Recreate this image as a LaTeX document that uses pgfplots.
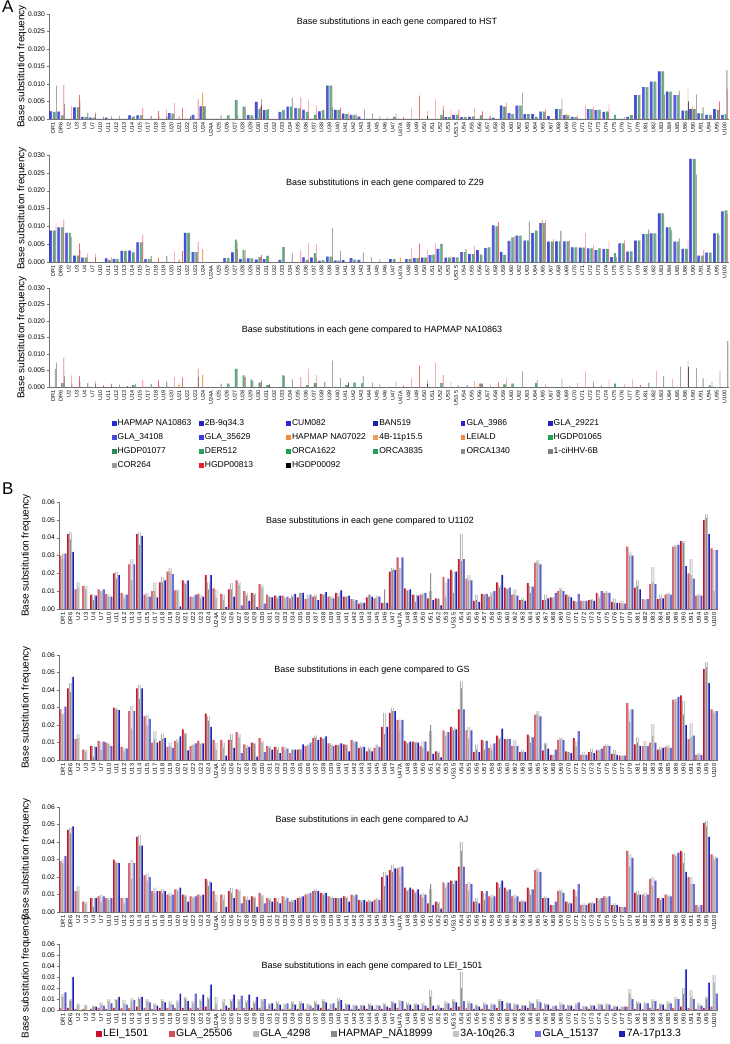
\documentclass[border=0pt]{standalone}
\usepackage{fontspec}
\setmainfont{Liberation Sans}
\usepackage{pgfplots}
\usepackage{pgfplotstable}
\pgfplotsset{compat=1.18}

% gene names along the x axis (86 categories)
\newcommand{\genes}{DR1,DR6,U2,U3,U4,U7,U10,U11,U12,U13,U14,U15,U17,U18,U19,U20,U21,U22,U23,U24,U24A,U25,U26,U27,U28,U29,U30,U31,U32,U33,U34,U35,U36,U37,U38,U39,U40,U41,U42,U43,U44,U45,U46,U47,U47A,U48,U49,U50,U51,U52,U53,U53.5,U54,U55,U56,U57,U58,U59,U60,U62,U63,U64,U65,U67,U68,U69,U70,U71,U72,U73,U74,U75,U76,U77,U79,U81,U82,U83,U84,U85,U86,U90,U91,U94,U95,U100}

% panel A colours
\definecolor{a0}{HTML}{2B2BD6}\definecolor{a1}{HTML}{2222C4}\definecolor{a2}{HTML}{2A2ADC}
\definecolor{a3}{HTML}{1E1EB4}\definecolor{a4}{HTML}{2626CC}\definecolor{a5}{HTML}{2020BE}
\definecolor{a6}{HTML}{4A4ADE}\definecolor{a7}{HTML}{3D3DD4}
\definecolor{a8}{HTML}{F28A3C}\definecolor{a9}{HTML}{F09A55}\definecolor{a10}{HTML}{EE8A44}
\definecolor{a11}{HTML}{1FA550}\definecolor{a12}{HTML}{2E8B57}\definecolor{a13}{HTML}{27A35E}
\definecolor{a14}{HTML}{1E9E52}\definecolor{a15}{HTML}{23A058}
\definecolor{a16}{HTML}{8C8C8C}\definecolor{a17}{HTML}{7E7E7E}\definecolor{a18}{HTML}{9A9A9A}
\definecolor{a19}{HTML}{EE1C24}\definecolor{a20}{HTML}{000000}
% panel B colours
\definecolor{cL}{HTML}{C8102E}\definecolor{cG}{HTML}{D35050}
\definecolor{cH}{HTML}{B4B4B4}\definecolor{cN}{HTML}{8A8A8A}\definecolor{cA}{HTML}{C4C4C4}
\definecolor{cQ}{HTML}{6E6EDC}\definecolor{cS}{HTML}{1E1EB0}

% values in units of 0.001 (panel A) and 0.01 (panel B)
% columns A: b=blue strains, o=orange, g=green, y=grey, r=HGDP00813, k=HGDP00092
\pgfplotstableread{
i b o g y r k
0 2.2 0 2.0 2.0 0 9.5
1 2.1 0 1.0 1.0 9.7 4.3
2 0 0 0 0 3.7 0
3 3.3 0 3.3 3.3 6.8 5.2
4 0.6 0 0.6 0.6 0 1.7
5 0.4 0 0.4 0.4 2.0 1.4
6 0 0 0 0 0.7 0
7 0.4 0 0 0 0 0.8
8 0 0 0 0 0 0.9
9 0 0 0 0 0 0
10 1.0 0 0.6 0.9 0 0
11 1.0 0 1.0 1.0 3.2 0
12 0 0 0 0 0 0.9
13 0 0 0 0 2.3 0.9
14 0 0 0 0 2.7 0.7
15 1.7 0 1.5 1.5 4.6 0
16 0 0.7 0 0 3.1 0
17 0 0 0 0 0 0.7
18 1.2 0 0 0 5.6 0
19 3.6 7.5 3.6 3.6 0 0
20 0 0 0 0 0 0
21 0 0 0 1.0 0 0
22 0 0 1.0 1.0 0 0
23 0 0 5.4 5.4 0 1.0
24 0 0 3.5 3.5 3.2 0
25 1.1 0 1.0 1.0 0 0
26 4.9 0 2.8 3.4 4.0 5.7
27 2.5 0 2.7 2.8 0 0
28 0 0 0 0 0 0
29 2.0 0 2.5 2.5 0 0
30 3.5 0 3.5 6.0 0 0
31 3.1 0 3.0 3.0 6.2 0
32 2.6 0 2.0 2.0 5.5 0
33 0 0 1.2 1.2 3.8 0
34 2.2 0 2.5 2.5 0 0
35 9.5 0 9.5 9.5 0 3.3
36 2.6 0 2.6 2.6 3.2 0
37 1.5 0 1.4 1.4 1.7 0
38 1.2 0 1.2 1.2 1.5 0
39 0.7 0 0 0 0 2.7
40 0 0 0 0 0 1.6
41 0 0 0 0 0.9 0
42 0 0 0 0 0.6 0
43 0 0 0.6 0.6 0 1.5
44 0 0 0 0 0.5 0
45 0 0 0 0 3.0 0
46 0 0 0 0 6.7 0
47 0 0 0 0 2.4 0.8
48 0 0 0 0 5.6 0
49 0 0 1.2 1.2 3.8 2.5
50 0.5 0 0.5 0.5 2.6 0
51 1.2 0 1.2 1.2 2.7 0
52 0.5 0 0.6 0.6 0 0
53 0.6 0 0.7 0.7 3.2 0
54 0 0 1.0 1.0 2.2 0
55 0 0 0 0.6 1.2 0
56 0.3 0 0 0 0 0
57 3.8 0 3.5 3.5 4.6 0
58 1.7 0 1.4 1.4 0 0
59 3.8 0 3.8 3.8 0 7.5
60 1.4 0 1.4 1.4 0 0
61 1.4 0 0.6 0.6 0 0
62 2.1 0 2.1 2.1 2.9 0
63 0.8 0 0 0 0 0
64 2.8 0 2.8 2.8 0 5.8
65 1.1 1.5 1.0 1.0 0 0
66 0.6 0 0.5 0.5 1.1 0
67 0 0 0 0 4.1 0
68 2.8 0 2.8 2.8 3.7 0
69 2.5 0 2.6 2.6 0 0
70 2.0 0 2.1 2.1 4.4 0
71 0 0 1.2 0 0 0
72 0 0 0 0 0.5 0
73 0.6 0 1.1 1.1 1.0 0
74 6.8 0 6.8 6.8 0 0
75 9.1 0 9.1 9.1 0 0
76 10.7 0 10.7 10.7 0 0
77 13.6 0 13.6 13.6 0 7.0
78 7.8 0 7.8 7.8 0 0
79 6.8 0 6.8 8.0 0 0
80 2.4 0 2.4 2.4 8.6 5.0
81 2.8 3.5 2.8 2.8 0 7.0
82 1.6 0 1.6 3.3 0 0
83 1.2 0 1.2 1.2 1.1 0
84 2.8 0 2.6 2.6 5.0 0
85 1.2 0 1.4 13.9 8.6 0
}\tAa

\pgfplotstableread{
i b o g y r k
0 8.8 0 8.8 8.8 10.8 0
1 9.7 0 9.7 9.7 11.9 0
2 8.2 0 8.2 7.0 0 0
3 1.8 0 1.8 1.8 5.2 3.5
4 1.2 0 1.2 1.2 2.4 0
5 0 0 0 0 2.3 1.3
6 0 0 0 0 0 0
7 1.0 0 0.6 0.6 1.4 0
8 0.9 0 0.9 0.9 0 0
9 3.1 0 3.1 3.1 0 0
10 3.2 0 2.7 2.7 0 0
11 5.5 0 5.5 5.5 7.7 0
12 0.8 0 0.8 0.8 0 1.7
13 0 0 0 0 1.2 0
14 0 0 0 0 0 1.7
15 0 0 0 0 3.0 0
16 0 0.7 0 0 3.1 0
17 8.2 0 8.2 8.2 0 0
18 2.8 0 2.8 2.8 5.6 0
19 0 3.6 0 0 0 0
20 0 0 0 0 0 0
21 0 0 0 0 0 0
22 1.1 0 1.1 1.1 0 0
23 2.7 0 6.3 3.6 5.5 0
24 0.8 0 3.4 1.0 3.3 0
25 1.0 0 1.0 1.0 0 0
26 0.7 0 1.4 1.4 2.0 0
27 0.8 0 1.7 1.7 0 0
28 0 0 0 0 0 0
29 0.6 0 4.2 4.2 0 0
30 0 0 0 2.4 0 0
31 0 0 0 0 3.1 0
32 1.3 0 0.6 0.6 5.3 0
33 1.2 0 2.5 1.2 5.0 0
34 0.3 0 0.5 0.5 0 0
35 1.5 0 1.5 1.5 0 9.6
36 0.4 0 0.4 0.4 0 3.1
37 0.5 0 0 0 0 0
38 1.1 0 0.7 0.7 0 0
39 0.6 0 0 2.6 0 0
40 0 0 0 1.4 0 0
41 0 0 0 0 0.8 0
42 0 0 0 0 0 0
43 0.8 0 0.8 0.8 0 0
44 0 1.2 0 0 0 0
45 0.8 0 0.8 0.8 3.8 0
46 1.1 0 1.1 1.1 5.2 0
47 1.2 0 1.2 1.2 3.5 0
48 1.9 0 2.1 2.1 5.3 0
49 3.7 0 5.1 5.1 0 0
50 1.2 0 1.2 1.2 1.8 0
51 1.3 0 1.3 1.3 0 0
52 2.8 0 2.8 3.6 0 0
53 2.2 0 2.2 2.2 4.6 0
54 3.3 0 2.1 2.1 0 0
55 3.9 0 4.1 4.1 0 0
56 10.3 0 10.0 10.0 11.2 0
57 2.8 0 2.0 2.0 0 0
58 5.9 0 6.9 6.9 7.1 0
59 7.4 0 7.4 7.4 0 0
60 6.0 0 6.0 11.3 0 0
61 8.1 0 8.8 8.8 0 0
62 10.9 11.8 10.9 10.9 11.8 0
63 5.7 0 5.7 5.7 6.5 0
64 5.8 0 5.8 8.7 0 0
65 5.8 0 5.8 5.8 6.3 0
66 4.1 0 4.1 4.1 0 0
67 4.0 0 4.0 4.0 8.1 0
68 3.8 0 3.8 3.8 4.8 0
69 3.3 0 3.8 3.8 0 0
70 3.6 0 3.6 3.6 5.9 0
71 1.4 0 2.5 1.4 0 0
72 5.2 0 5.2 5.2 6.2 0
73 2.9 0 3.0 3.0 0 0
74 6.0 0 6.0 6.0 0 0
75 7.8 0 7.8 7.8 0 9.1
76 8.0 0 8.0 8.0 0 0
77 13.6 0 13.6 13.6 0 0
78 9.7 0 9.7 8.8 0 0
79 5.7 0 5.7 6.7 0 0
80 3.7 0 3.7 3.7 6.0 0
81 28.9 0 28.9 28.9 0 24.5
82 1.8 0 1.8 1.8 3.4 0
83 2.6 0 2.6 2.6 0 0
84 8.0 0 8.0 7.6 0 0
85 14.2 0 14.5 14.5 13.5 0
}\tAb

\pgfplotstableread{
i b o g y r k
0 0 0 0 5.5 0 7.4
1 0 0 1.2 1.2 8.8 3.2
2 0 0 0 0 3.5 1.0
3 0 0 0 0 3.4 1.6
4 0 0 0 0 0 1.2
5 0 0 0 0 1.8 1.0
6 0 0 0 0 0.6 0
7 0 0 0 0 0.5 1.0
8 0 0 0 0 0 0.8
9 0 0 0 0 0 0.3
10 0 0 0.6 0.6 0 1.0
11 0 0 0 0 2.0 0
12 0 0 0 0 0 0.9
13 0 0 0 0 2.0 0.5
14 0 0 0 0 0 1.6
15 0 0 0 0 2.9 0
16 0 0.8 0 0 2.9 0
17 0 0 0 0 0 0
18 0 0 0 0 5.6 3.0
19 0 3.7 0 0 0 0
20 0 0 0 0 0 0
21 0 0 0 1.0 0 0
22 0 0 1.0 1.0 0 0
23 0 0 5.5 5.5 0 0
24 0 0 3.5 3.0 3.0 0
25 0 0 2.2 1.8 0 0
26 0 0 1.3 1.3 1.9 0
27 0 0 0.6 0.6 0 0.8
28 0 0 0 0 0 0
29 0 0 3.5 3.4 0 0
30 0 0 0 2.3 0 0
31 0 0 0 0 3.0 0
32 0 0 0.6 0.6 5.6 0
33 0 0 1.2 1.2 3.7 0
34 0 0 0 0 0 1.5
35 0 0 0 0 0 8.0
36 0 0 0 0 0 2.7
37 0 0 0.6 0.6 0 1.3
38 0 0 1.3 1.3 0 0
39 0 0 1.2 3.3 0 0
40 0 0 0 0 0 1.3
41 0 0 0 0 0.8 0
42 0 0 0 0 0 0
43 0 0 0 0 0 1.5
44 0 0 0 0 0.5 0
45 0 0 0 0 2.6 0
46 0 0 0 0 6.5 0
47 0 0 0 0 2.2 1.0
48 0 0 0 0 7.4 0
49 0 0 1.2 1.2 3.6 0
50 0 0 0 0 1.5 0
51 0 0 0 0.5 0 0
52 0 0 0 0 0 0.6
53 0 0 0 0 1.8 0
54 0 1.0 1.0 1.0 1.0 0
55 0 0 0 0 0.8 0
56 0 0 0 0 1.4 0
57 0 0 0.8 0.8 2.6 0
58 0 0 1.0 1.0 0 0
59 0 0 0 0 0 4.7
60 0 0 0 0 0 0
61 0 0 1.2 2.0 0 0
62 0 0 0 0 1.0 0
63 0 0 0 0 0 0
64 0 0 0 0 0 2.4
65 0 0 0 0 0.5 0
66 0 0 0 0 1.3 0
67 0 0 0 0 4.7 0
68 0 0 0 0 0.5 1.6
69 0 0 0 0 0 0.5
70 0 0 0 0 2.4 0
71 0 0 1.0 0 0 0
72 0 0 0 0 1.0 0
73 0 0 0 0 2.3 0
74 0 0 0 0 0.6 0
75 0 0 0 0 0 1.3
76 0 0 0 0 4.8 0
77 0 0 0 3.2 0 0
78 0 0 0 0 2.4 0
79 0 0 0 0 0 6.2
80 0 0 0 0 8.0 6.1
81 0 0 0 0 0 5.7
82 0 0 0 2.6 0 0
83 0 0 0.5 0 0 1.5
84 0 0 0 0 0 5.0
85 0 0 0 0 0 14.0
}\tAc

% columns B: r=red strains, g=light grey strains, s=HAPMAP_NA18999, b=blue strains
\pgfplotstableread{
i r g s b
0 3.0 2.8 3.1 3.1
1 4.2 4.3 3.9 3.2
2 1.1 1.5 1.2 0
3 1.3 1.3 1.1 0
4 0.8 0.8 0.5 0.75
5 1.1 1.0 1.0 1.1
6 0.85 0.8 0.7 0.7
7 2.0 2.1 1.7 1.9
8 0.9 0.8 0.6 0.8
9 2.5 2.8 1.6 2.5
10 4.2 4.3 3.6 4.1
11 0.8 0.9 0.7 0.7
12 1.0 1.5 1.0 0.65
13 1.5 1.8 1.5 1.6
14 2.1 2.3 2.1 1.95
15 1.05 1.1 1.0 0.15
16 1.6 1.5 1.4 1.6
17 0.7 0.7 0.7 0.8
18 0.85 0.8 0.6 0.7
19 1.9 1.5 1.1 1.9
20 1.15 1.1 0.6 0
21 0.85 0.8 0.5 0.1
22 1.1 1.45 1.1 0.7
23 1.6 1.5 1.35 0.2
24 1.0 0.9 0.75 0.45
25 0.9 0.9 0.8 0.1
26 1.4 1.35 1.2 0.3
27 0.8 0.7 0.7 0.65
28 0.75 0.75 0.6 0.75
29 0.75 0.7 0.6 0.7
30 0.6 0.8 0.7 0.85
31 0.65 0.9 0.9 0.9
32 0.55 0.8 0.6 0.8
33 0.7 0.8 0.7 0.5
34 0.85 0.85 0.8 0.95
35 0.7 0.75 0.6 0.6
36 0.9 0.9 0.7 1.05
37 0.7 0.7 0.7 0.75
38 0.55 0.55 0.45 0.5
39 0.3 0.4 0.3 0.35
40 0.65 0.8 0.8 0.7
41 0.6 0.75 0.6 0.7
42 0.35 0.35 1.1 0.35
43 2.1 2.3 2.2 2.2
44 2.9 2.3 2.3 2.9
45 1.15 1.05 1.05 1.1
46 0.8 0.8 0.4 0.75
47 0.8 0.9 0.8 0.9
48 0.6 1.0 2.0 0.5
49 0.6 0.55 0.6 0.2
50 1.8 1.5 0.7 1.7
51 2.2 2.1 0.9 2.1
52 2.8 4.2 2.7 2.8
53 1.7 1.9 1.6 1.6
54 0.45 0.8 0.5 0.4
55 0.85 0.85 0.8 0.85
56 0.7 0.95 0.85 1.0
57 1.5 1.35 1.2 1.9
58 1.2 1.15 1.1 1.2
59 0.8 1.1 0.8 0.75
60 0.5 0.6 0.5 0.45
61 1.45 1.3 0.9 1.25
62 2.6 2.75 2.6 2.5
63 0.5 0.8 0.5 0.6
64 0.65 0.65 0.65 0.9
65 1.0 1.2 1.1 1.0
66 0.8 0.8 0.7 0.65
67 0.45 0.45 0.4 0.85
68 0.45 0.45 0.45 0.45
69 0.5 0.55 0.5 0.45
70 0.9 0.8 0.6 1.0
71 0.9 1.0 0.9 0.9
72 0.4 0.6 0.35 0.35
73 0.35 0.45 0.3 0.3
74 3.5 3.2 3.0 3.0
75 1.2 1.6 1.3 1.1
76 0.55 0.55 0.5 0.55
77 1.4 2.35 1.5 1.4
78 0.55 0.8 0.6 0.6
79 0.8 0.9 0.85 0.8
80 3.5 3.6 3.5 3.6
81 3.8 3.8 3.7 2.4
82 2.0 2.8 1.9 1.7
83 0.75 0.85 0.75 0.75
84 5.0 5.3 5.1 4.2
85 3.4 3.3 1.0 3.3
}\tBa

\pgfplotstableread{
i r g s b
0 2.9 2.7 2.6 3.05
1 4.1 4.4 3.9 4.75
2 1.2 1.5 1.25 0
3 0.6 0.6 0.5 0
4 0.8 0.8 0.2 0.75
5 1.1 1.05 0.6 1.05
6 1.0 0.95 0.9 0.8
7 3.0 2.95 2.9 2.85
8 0.75 0.7 0.5 0.65
9 2.8 3.1 1.8 2.8
10 4.1 4.3 3.5 4.1
11 2.5 2.6 2.0 2.35
12 1.0 1.65 1.2 1.0
13 1.1 1.5 1.2 1.25
14 0.75 1.0 0.8 0.7
15 1.1 1.2 1.0 1.35
16 1.75 1.55 1.5 0.55
17 0.8 0.9 0.85 0.95
18 1.1 1.0 0.9 0.95
19 2.65 2.5 2.25 1.9
20 1.15 1.0 0.6 0
21 1.15 1.0 0.7 0.25
22 1.15 1.5 1.15 0.7
23 1.6 1.5 1.3 0.4
24 0.9 0.85 0.7 0.75
25 1.0 0.95 0.95 0.2
26 1.25 1.1 1.0 0.45
27 0.8 0.8 0.7 0.6
28 0.75 0.75 0.6 0.4
29 0.75 0.75 0.6 0.65
30 0.4 0.6 0.6 0.6
31 0.6 0.65 0.6 0.9
32 0.8 0.9 0.85 1.0
33 1.25 1.4 1.3 1.15
34 1.3 1.25 1.2 1.35
35 0.95 0.95 0.85 0.8
36 0.85 0.9 0.85 0.95
37 0.9 0.9 0.85 0.5
38 1.15 1.1 1.0 1.05
39 0.7 0.8 0.7 0.75
40 0.5 0.7 0.6 0.5
41 0.7 0.9 0.8 0.75
42 1.9 2.7 1.5 1.9
43 2.7 3.0 2.8 2.8
44 2.3 2.3 1.7 2.3
45 1.1 1.0 0.95 1.05
46 1.05 1.05 1.0 1.0
47 0.8 1.1 0.7 1.05
48 0.5 1.65 2.0 0.35
49 0.5 0.5 0.4 0.15
50 1.7 1.6 1.4 1.6
51 1.9 1.85 1.7 1.75
52 2.9 4.5 4.1 2.9
53 1.7 1.9 1.2 1.7
54 0.45 0.9 0.6 0.45
55 1.15 1.1 0.6 1.1
56 0.7 0.9 0.6 0.95
57 1.4 1.3 1.2 1.8
58 1.2 1.2 1.2 1.2
59 0.8 1.15 0.8 0.8
60 0.45 0.6 0.45 0.45
61 1.45 1.35 1.0 1.3
62 2.6 2.8 2.6 2.5
63 0.55 1.0 0.9 0.65
64 0.3 0.3 0.3 0.6
65 1.15 1.3 1.2 1.15
66 0.5 0.45 0.45 0.4
67 1.25 1.1 0.8 1.65
68 0.3 0.45 0.3 0.3
69 0.45 0.65 0.45 0.4
70 0.55 0.6 0.55 0.65
71 0.8 0.9 0.8 0.8
72 0.35 0.6 0.35 0.3
73 0.25 0.25 0.25 0.25
74 3.25 2.9 2.2 2.9
75 0.9 1.3 1.0 0.8
76 0.8 1.1 0.8 0.8
77 1.0 2.05 1.4 1.0
78 0.6 0.75 0.6 0.7
79 0.75 0.85 0.7 0.7
80 3.45 3.35 3.5 3.6
81 3.7 3.4 2.6 2.0
82 1.2 2.1 1.3 1.4
83 0.3 0.4 0.3 0.3
84 5.2 5.6 5.3 4.4
85 2.9 2.8 2.7 2.8
}\tBb

\pgfplotstableread{
i r g s b
0 2.9 3.0 2.8 3.2
1 4.7 4.8 4.5 4.9
2 1.2 1.5 1.2 0
3 0.6 0.6 0.5 0
4 0.8 0.8 0.3 0.8
5 0.9 1.0 0.6 0.9
6 0.8 0.8 0.7 0.8
7 3.0 2.9 2.8 2.8
8 0.8 0.8 0.5 0.8
9 2.8 3.0 1.9 2.8
10 4.3 4.4 3.8 3.8
11 2.1 2.2 1.8 2.0
12 1.2 1.4 1.1 1.2
13 1.2 1.3 1.1 1.2
14 1.0 1.1 0.9 1.0
15 1.3 1.3 1.2 1.4
16 1.0 1.0 0.9 0.6
17 0.9 0.9 0.8 0.9
18 1.0 1.0 0.9 1.0
19 1.9 1.8 1.5 1.7
20 1.2 1.0 0.6 0
21 1.0 1.0 0.7 0.3
22 1.2 1.4 1.1 0.8
23 1.3 1.3 1.2 0.5
24 0.9 0.9 0.7 0.7
25 0.9 0.9 0.8 0.3
26 1.1 1.0 0.9 0.5
27 0.8 0.8 0.7 0.6
28 0.8 0.8 0.6 0.5
29 0.9 0.9 0.7 0.8
30 0.6 0.7 0.6 0.7
31 0.8 0.9 0.8 0.9
32 1.0 1.1 1.0 1.1
33 1.2 1.3 1.2 1.2
34 1.1 1.1 1.0 1.1
35 0.9 0.9 0.8 0.8
36 0.8 0.8 0.8 0.8
37 0.9 0.9 0.8 0.6
38 1.0 1.0 0.9 1.0
39 0.7 0.7 0.6 0.7
40 0.6 0.7 0.6 0.6
41 0.7 0.8 0.7 0.7
42 2.0 2.3 1.5 2.1
43 2.4 2.7 2.3 2.5
44 2.5 2.6 2.0 2.6
45 1.4 1.3 1.2 1.4
46 1.3 1.2 1.1 1.3
47 1.0 1.1 0.8 1.0
48 0.5 1.3 1.6 0.4
49 0.6 0.6 0.5 0.2
50 1.7 1.6 1.4 1.7
51 1.8 1.8 1.6 1.8
52 2.6 4.0 3.5 2.6
53 1.6 1.7 1.2 1.6
54 0.6 0.8 0.6 0.5
55 1.2 1.1 0.7 1.2
56 0.9 1.0 0.8 0.9
57 1.7 1.6 1.4 1.8
58 1.4 1.3 1.2 1.3
59 0.9 1.0 0.8 0.9
60 0.6 0.7 0.6 0.6
61 1.4 1.3 1.0 1.3
62 2.4 2.5 2.3 2.3
63 0.8 0.9 0.8 0.8
64 0.4 0.4 0.4 0.6
65 1.2 1.3 1.2 1.1
66 0.6 0.6 0.5 0.5
67 1.3 1.2 0.9 1.6
68 0.4 0.5 0.4 0.4
69 0.5 0.6 0.5 0.5
70 0.8 0.8 0.7 0.8
71 0.9 0.9 0.8 0.9
72 0.4 0.5 0.4 0.4
73 0.3 0.3 0.3 0.3
74 3.5 3.3 2.6 3.1
75 1.1 1.2 1.0 1.0
76 1.0 1.1 0.9 1.0
77 1.9 2.0 1.5 1.8
78 0.8 0.8 0.7 0.8
79 1.0 1.0 0.9 0.9
80 3.3 3.3 3.2 3.4
81 3.5 3.4 2.8 2.3
82 2.0 2.0 1.6 1.6
83 0.4 0.4 0.3 0.4
84 5.1 5.2 4.9 4.3
85 3.3 3.2 3.0 3.1
}\tBc

\pgfplotstableread{
i r g s b
0 0.2 1.5 1.2 1.6
1 0.2 1.0 0.8 3.0
2 0.1 0.6 0.5 0
3 0.1 0.5 0.4 0
4 0.1 0.4 0.3 0.3
5 0.2 0.7 0.5 0.4
6 0.1 1.0 0.8 0.6
7 0.2 1.0 0.9 1.2
8 0.2 0.9 0.6 0.5
9 0.2 1.1 0.8 0.9
10 0.3 1.2 1.0 1.2
11 0.2 1.0 0.8 0.7
12 0.1 0.6 0.5 0.4
13 0.2 1.0 0.8 0.7
14 0.2 0.8 0.6 0.5
15 0.2 0.9 0.7 1.5
16 0.2 1.2 1.0 0.8
17 0.2 0.8 0.6 1.5
18 0.2 1.0 0.8 1.4
19 0.3 1.2 1.0 2.3
20 0.1 1.2 0.6 0
21 0.1 1.0 0.7 0.4
22 0.2 1.0 0.8 1.4
23 0.2 1.0 0.8 1.3
24 0.2 0.9 0.7 1.4
25 0.2 0.8 0.6 1.2
26 0.2 1.0 0.8 1.0
27 0.1 0.6 0.5 0.6
28 0.1 0.8 0.6 0.5
29 0.1 0.6 0.5 0.6
30 0.1 0.8 0.6 0.5
31 0.1 0.8 0.6 0.6
32 0.1 0.6 0.5 0.4
33 0.2 0.8 0.6 0.5
34 0.2 1.0 0.8 0.7
35 0.1 0.6 0.5 0.6
36 0.2 1.1 0.8 0.9
37 0.1 0.6 0.5 0.5
38 0.1 0.5 0.4 0.4
39 0.1 0.5 0.4 0.4
40 0.1 0.6 0.5 0.4
41 0.1 0.5 0.4 0.4
42 0.1 0.6 0.5 0.3
43 0.2 0.8 0.7 0.6
44 0.2 0.9 0.7 0.8
45 0.1 0.7 0.5 0.5
46 0.1 0.6 0.5 0.5
47 0.1 0.7 0.5 0.4
48 0.2 1.8 1.2 0.4
49 0.1 0.5 0.4 0.2
50 0.2 0.8 0.6 0.6
51 0.2 1.0 0.8 0.7
52 0.3 3.5 2.0 0.8
53 0.2 0.8 0.6 0.6
54 0.1 0.5 0.4 0.3
55 0.1 0.7 0.5 0.5
56 0.1 0.6 0.5 0.5
57 0.2 1.0 0.8 0.8
58 0.1 0.7 0.6 0.6
59 0.1 0.6 0.5 0.5
60 0.1 0.5 0.4 0.4
61 0.2 0.8 0.6 0.6
62 0.2 1.0 0.8 0.7
63 0.1 0.6 0.5 0.5
64 0.1 0.4 0.3 0.4
65 0.1 0.7 0.5 0.5
66 0.1 0.5 0.4 0.4
67 0.1 0.6 0.5 0.7
68 0.1 0.4 0.3 0.3
69 0.1 0.5 0.4 0.4
70 0.1 0.6 0.5 0.5
71 0.1 0.6 0.5 0.5
72 0.1 0.4 0.3 0.3
73 0.1 0.3 0.3 0.3
74 0.3 1.9 1.5 1.0
75 0.1 0.8 0.6 0.6
76 0.1 0.7 0.6 0.6
77 0.2 1.0 0.8 0.8
78 0.1 0.6 0.5 0.5
79 0.1 0.8 0.6 0.6
80 0.2 1.2 1.0 1.0
81 0.3 2.0 1.5 3.7
82 0.2 1.8 1.2 1.0
83 0.1 0.6 0.4 0.4
84 0.2 1.2 1.0 2.5
85 0.3 3.2 2.5 1.5
}\tBd

\pgfplotsset{
  Abar/.style={fill=#1,draw=none,legend image code/.code={\fill[#1] (0pt,-2.4pt) rectangle (4.8pt,2.4pt);}},
  Bbar/.style={fill=#1,draw=none,legend image code/.code={\fill[#1] (0pt,-3pt) rectangle (6pt,3pt);}},
  base/.style={scale only axis, ybar, enlargelimits=false,
    xmin=-0.5, xmax=85.5, ymin=0,
    axis x line*=bottom, axis y line*=left,
    axis line style={draw=black!55, line width=0.5pt},
    xtick={0,...,85}, xticklabels/.expand once=\genes,
    xticklabel style={rotate=90, anchor=east, inner sep=1pt},
    x tick style={draw=none},
    tick align=outside, major tick length=2.5pt,
    y tick style={draw=black!55},
    yticklabel style={font=\fontsize{6.7}{7}\selectfont, inner sep=1.5pt},
    ylabel={Base substitution frequency},
    ylabel style={font=\fontsize{7.8}{9}\selectfont}},
  Aax/.style={base, width=679.5pt, bar width=0.042, ymax=30,
    ytick={0,5,...,30},
    yticklabels={0.000,0.005,0.010,0.015,0.020,0.025,0.030},
    xticklabel style={font=\fontsize{5.4}{6}\selectfont},
    every axis y label/.style={at={(axis description cs:-0.04,0.5)}, rotate=90, anchor=center}},
  Bax/.style={base, width=659pt, bar width=0.1286, ymax=6,
    ytick={0,1,...,6},
    yticklabels={0.00,0.01,0.02,0.03,0.04,0.05,0.06},
    xticklabel style={font=\fontsize{5.8}{6}\selectfont},
    every axis y label/.style={at={(axis description cs:-0.05,0.5)}, rotate=90, anchor=center}},
}

% 21 strains of panel A, drawn side by side in each gene
\newcommand\Aall[1]{%
  \addplot[Abar=a0,bar shift=-0.420] table[x=i,y=b]{#1};
  \addplot[Abar=a1,bar shift=-0.378] table[x=i,y=b]{#1};
  \addplot[Abar=a2,bar shift=-0.336] table[x=i,y=b]{#1};
  \addplot[Abar=a3,bar shift=-0.294] table[x=i,y=b]{#1};
  \addplot[Abar=a4,bar shift=-0.252] table[x=i,y=b]{#1};
  \addplot[Abar=a5,bar shift=-0.210] table[x=i,y=b]{#1};
  \addplot[Abar=a6,bar shift=-0.168] table[x=i,y=b]{#1};
  \addplot[Abar=a7,bar shift=-0.126] table[x=i,y=b]{#1};
  \addplot[Abar=a8,bar shift=-0.084] table[x=i,y=o]{#1};
  \addplot[Abar=a9,bar shift=-0.042] table[x=i,y=o]{#1};
  \addplot[Abar=a10,bar shift=0] table[x=i,y=o]{#1};
  \addplot[Abar=a11,bar shift=0.042] table[x=i,y=g]{#1};
  \addplot[Abar=a12,bar shift=0.084] table[x=i,y=g]{#1};
  \addplot[Abar=a13,bar shift=0.126] table[x=i,y=g]{#1};
  \addplot[Abar=a14,bar shift=0.168] table[x=i,y=g]{#1};
  \addplot[Abar=a15,bar shift=0.210] table[x=i,y=g]{#1};
  \addplot[Abar=a16,bar shift=0.252] table[x=i,y=y]{#1};
  \addplot[Abar=a17,bar shift=0.294] table[x=i,y=y]{#1};
  \addplot[Abar=a18,bar shift=0.336] table[x=i,y=y]{#1};
  \addplot[Abar=a19,bar shift=0.378] table[x=i,y=r]{#1};
  \addplot[Abar=a20,bar shift=0.420] table[x=i,y=k]{#1};
}
% 7 strains of panel B
\newcommand\Ball[1]{%
  \addplot[Bbar=cL,bar shift=-0.3857] table[x=i,y=r]{#1};
  \addplot[Bbar=cG,bar shift=-0.2571] table[x=i,y=r]{#1};
  \addplot[Bbar=cH,bar shift=-0.1286] table[x=i,y=g]{#1};
  \addplot[Bbar=cN,bar shift=0] table[x=i,y=s]{#1};
  \addplot[Bbar=cA,bar shift=0.1286] table[x=i,y=g]{#1};
  \addplot[Bbar=cQ,bar shift=0.2571] table[x=i,y=b]{#1};
  \addplot[Bbar=cS,bar shift=0.3857] table[x=i,y=b]{#1};
}
\newcommand\LE[1]{\makebox[80pt][l]{#1}}

\begin{document}
\begin{tikzpicture}
\useasboundingbox (0,0) rectangle (730pt,-1044pt);
\node[anchor=north west, inner sep=0pt, font=\fontsize{17}{18}\selectfont] at (2pt,-1pt) {A};
\node[anchor=north west, inner sep=0pt, font=\fontsize{17}{18}\selectfont] at (2pt,-483pt) {B};

\begin{axis}[Aax, at={(49pt,-14pt)}, anchor=north west, height=105pt]
\Aall{\tAa}
\end{axis}

\begin{axis}[Aax, at={(49pt,-155pt)}, anchor=north west, height=107pt]
\Aall{\tAb}
\end{axis}

\begin{axis}[Aax, at={(49pt,-288pt)}, anchor=north west, height=99pt,
  legend columns=6,
  legend style={at={(axis description cs:0.092,-0.318)}, anchor=north west,
    draw=none, fill=none, font=\fontsize{8.5}{10}\selectfont,
    row sep=4pt, inner sep=0pt, nodes={inner sep=1.2pt}},
  legend entries={\LE{HAPMAP NA10863},\LE{2B-9q34.3},\LE{CUM082},\LE{BAN519},\LE{GLA\_3986},\LE{GLA\_29221},
    \LE{GLA\_34108},\LE{GLA\_35629},\LE{HAPMAP NA07022},\LE{4B-11p15.5},\LE{LEIALD},\LE{HGDP01065},
    \LE{HGDP01077},\LE{DER512},\LE{ORCA1622},\LE{ORCA3835},\LE{ORCA1340},\LE{1-ciHHV-6B},
    \LE{COR264},\LE{HGDP00813},\LE{HGDP00092}}]
\Aall{\tAc}
\end{axis}

\begin{axis}[Bax, at={(59pt,-502pt)}, anchor=north west, height=107pt]
\Ball{\tBa}
\end{axis}

\begin{axis}[Bax, at={(59pt,-655pt)}, anchor=north west, height=105pt]
\Ball{\tBb}
\end{axis}

\begin{axis}[Bax, at={(59pt,-807pt)}, anchor=north west, height=105pt]
\Ball{\tBc}
\end{axis}

\begin{axis}[Bax, at={(59pt,-944pt)}, anchor=north west, height=66pt,
  legend columns=7,
  legend style={at={(axis description cs:0.501,-0.27)}, anchor=north,
    draw=none, fill=none, font=\fontsize{10.5}{12}\selectfont, inner sep=0pt,
    nodes={inner sep=1.5pt},
    /tikz/every even column/.append style={column sep=19pt}},
  legend entries={LEI\_1501,GLA\_25506,GLA\_4298,HAPMAP\_NA18999,3A-10q26.3,GLA\_15137,7A-17p13.3}]
\Ball{\tBd}
\end{axis}

% sub-plot titles
\begin{scope}[every node/.style={anchor=center, inner sep=0pt, font=\fontsize{9}{10}\selectfont}]
\node at (397pt,-22pt) {Base substitutions in each gene compared to HST};
\node at (385pt,-183pt) {Base substitutions in each gene compared to Z29};
\node at (372pt,-330pt) {Base substitutions in each gene compared to HAPMAP NA10863};
\node at (370pt,-521pt) {Base substitutions in each gene compared to U1102};
\node at (372pt,-670pt) {Base substitutions in each gene compared to GS};
\node at (372pt,-820pt) {Base substitutions in each gene compared to AJ};
\node at (372pt,-966pt) {Base substitutions in each gene compared to LEI\_1501};
\end{scope}
\end{tikzpicture}
\end{document}
